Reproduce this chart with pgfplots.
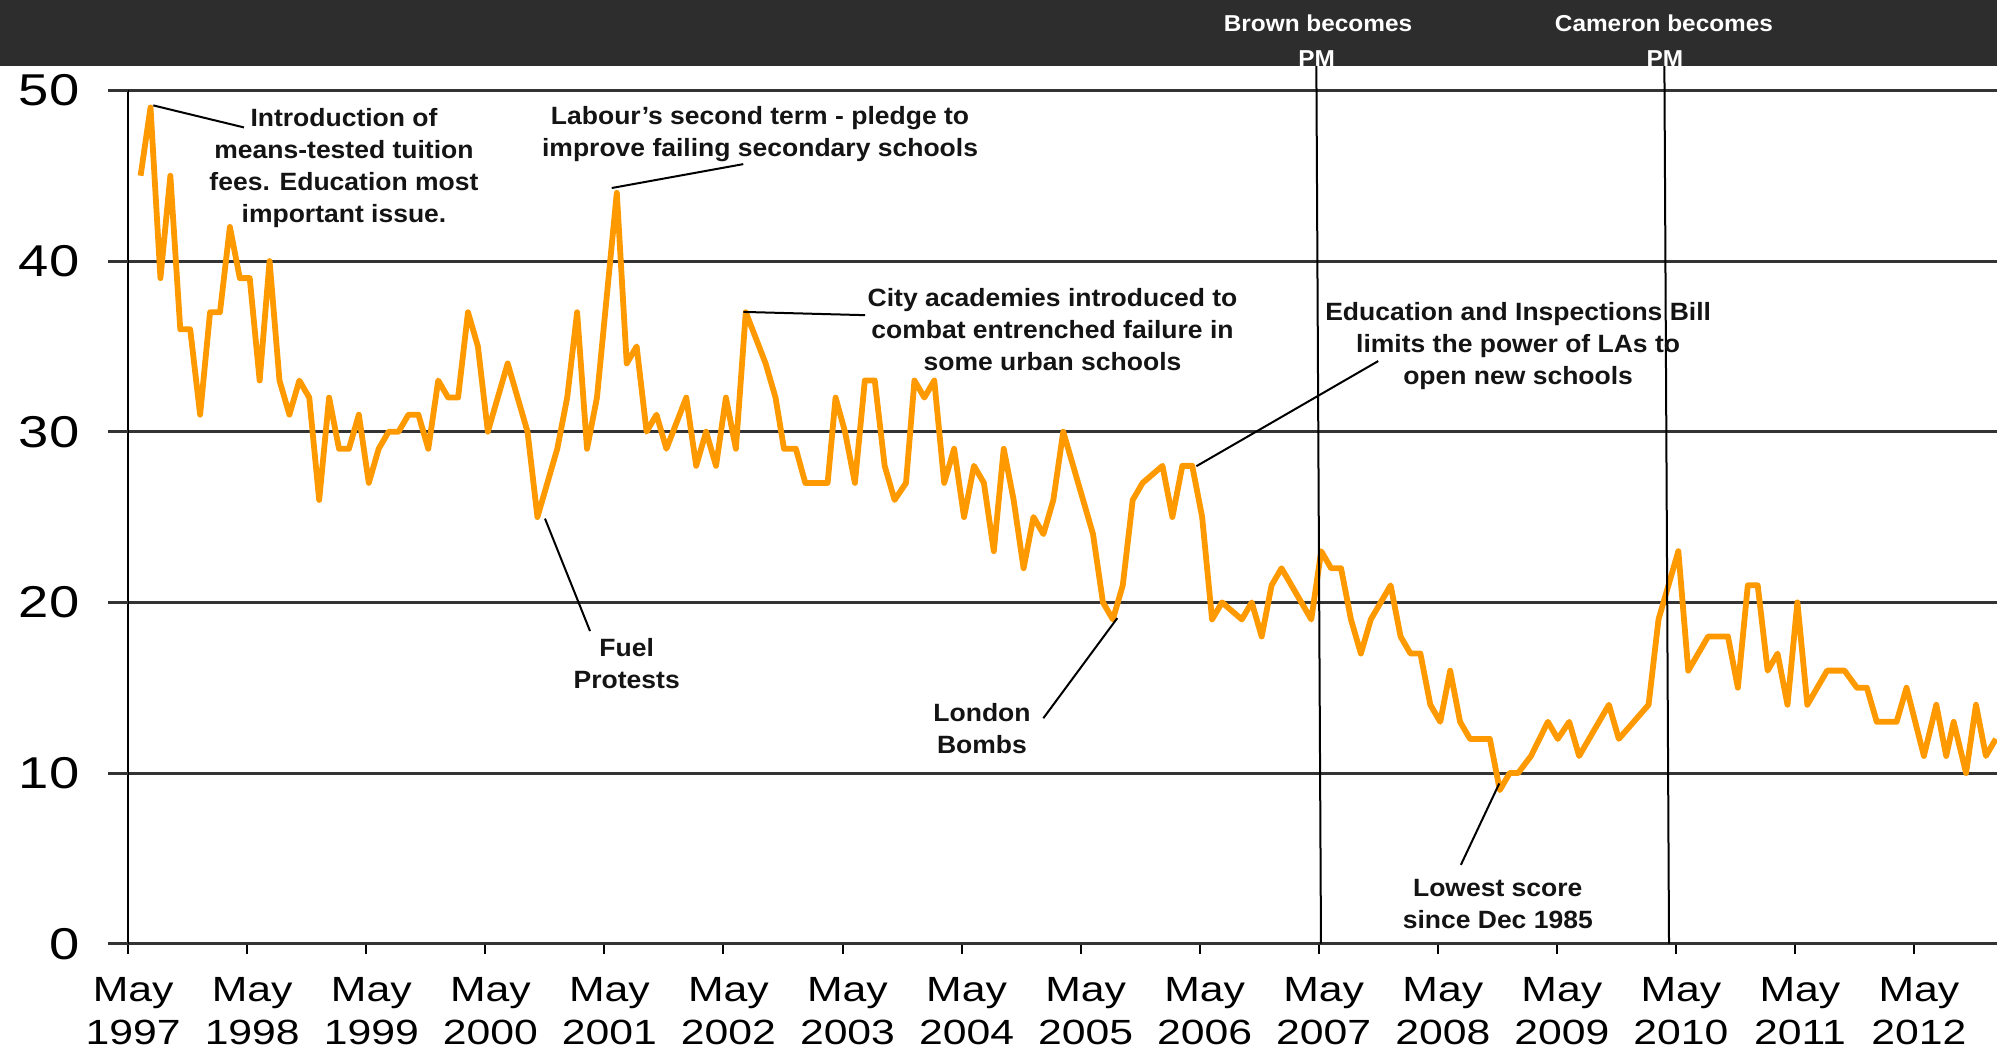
\documentclass[border=0pt]{standalone}
\usepackage{pgfplots}
\pgfplotsset{compat=1.18}
\usepackage{pgfplotstable}
\usepackage{fontspec}
\setmainfont{Liberation Sans}
\newfontfamily\tickfont{Liberation Sans}[FakeStretch=1.22]
\newfontfamily\notefont{Liberation Sans}[FakeStretch=1.06]

\definecolor{lineor}{RGB}{255,153,0}
\definecolor{gridc}{RGB}{51,51,51}
\definecolor{band}{RGB}{45,45,45}
\definecolor{txt}{RGB}{20,20,20}

% months after May 1997, share of public naming education as an important issue
\pgfplotstableread{
m val
1.25 45
2.25 49
3.25 39
4.25 45
5.25 36
6.25 36
7.25 31
8.25 37
9.25 37
10.25 42
11.25 39
12.25 39
13.25 33
14.25 40
15.25 33
16.25 31
17.25 33
18.25 32
19.25 26
20.25 32
21.25 29
22.25 29
23.25 31
24.25 27
25.25 29
26.25 30
27.25 30
28.25 31
29.25 31
30.25 29
31.25 33
32.25 32
33.25 32
34.25 37
35.25 35
36.25 30
37.25 32
38.25 34
40.25 30
41.25 25
43.25 29
44.25 32
45.25 37
46.25 29
47.25 32
49.25 44
50.25 34
51.25 35
52.25 30
53.25 31
54.25 29
56.25 32
57.25 28
58.25 30
59.25 28
60.25 32
61.25 29
62.25 37
64.25 34
65.25 32
66.1 29
67.3 29
68.25 27
70.5 27
71.3 32
72.25 30
73.25 27
74.25 33
75.25 33
76.25 28
77.25 26
78.4 27
79.25 33
80.25 32
81.25 33
82.25 27
83.25 29
84.25 25
85.25 28
86.25 27
87.25 23
88.25 29
89.25 26
90.25 22
91.25 25
92.25 24
93.25 26
94.25 30
95.25 28
96.25 26
97.25 24
98.25 20
99.25 19
100.25 21
101.25 26
102.25 27
104.25 28
105.25 25
106.25 28
107.25 28
108.25 25
109.25 19
110.25 20
112.25 19
113.25 20
114.25 18
115.25 21
116.25 22
119.25 19
120.25 23
121.25 22
122.25 22
123.25 19
124.25 17
125.25 19
127.25 21
128.25 18
129.25 17
130.25 17
131.25 14
132.25 13
133.25 16
134.25 13
135.25 12
137.25 12
138.25 9
139.25 10
140.1 10
141.4 11
143.1 13
144.1 12
145.25 13
146.25 11
149.25 14
150.25 12
153.25 14
154.25 19
155.25 21
156.25 23
157.25 16
158.25 17
159.25 18
161.25 18
162.25 15
163.25 21
164.25 21
165.25 16
166.25 17
167.25 14
168.25 20
169.25 14
170.25 15
171.25 16
173.0 16
174.25 15
175.25 15
176.25 13
178.25 13
179.25 15
181.0 11
182.25 14
183.25 11
184.0 13
185.25 10
186.25 14
187.25 11
188.25 12
}\edudata

\begin{document}
\begin{tikzpicture}
\path[use as bounding box] (-64.1bp,-54.15bp) rectangle (934.4bp,471.85bp);
\begin{axis}[
  at={(0,0)}, anchor=south west,
  scale only axis,
  width=934.4bp, height=426.65bp,
  xmin=0, xmax=188.37,
  ymin=0, ymax=50,
  clip=false,
  axis x line*=bottom, axis y line*=left,
  axis line style={-, line width=1.2bp},
  x axis line style={gridc, line width=1.5bp},
  y axis line style={black},
  xtick={0,12,...,180},
  xticklabels={May\\1997,May\\1998,May\\1999,May\\2000,May\\2001,May\\2002,May\\2003,May\\2004,May\\2005,May\\2006,May\\2007,May\\2008,May\\2009,May\\2010,May\\2011,May\\2012},
  xtick align=outside,
  major tick length=5bp,
  xtick style={black, line width=1bp},
  xticklabel style={align=center, font=\tickfont\fontsize{17.5bp}{21.4bp}\selectfont, xshift=2.5bp, yshift=-8.5bp},
  ytick={0,10,...,50},
  ytick style={draw=none},
  ytick align=inside,
  yticklabel style={inner sep=0pt, anchor=east, xshift=-24.25bp, font=\tickfont\fontsize{22.3bp}{26bp}\selectfont},
  /pgf/number format/assume math mode=true,
  ymajorgrids,
  major grid style={gridc, line width=1.5bp},
]
\pgfplotsinvokeforeach{0,10,20,30,40,50}{
  \draw[gridc, line width=1.5bp] (axis cs:-2.02,#1) -- (axis cs:0,#1);
}

\addplot[lineor, line width=2.9bp, line join=round, mark=none] table[x=m, y=val] {\edudata};

% leader lines
\draw[black, line width=1bp] (axis cs:2.53,49.12) -- (axis cs:11.67,47.83);
\draw[black, line width=1bp] (axis cs:48.74,44.28) -- (axis cs:62.0,45.68);
\draw[black, line width=1bp] (axis cs:62.0,37.02) -- (axis cs:74.27,36.83);
\draw[black, line width=1bp] (axis cs:107.67,27.98) -- (axis cs:126.0,34.14);
\draw[black, line width=1bp] (axis cs:42.01,24.91) -- (axis cs:46.55,18.32);
\draw[black, line width=1bp] (axis cs:92.24,13.21) -- (axis cs:99.7,19.08);
\draw[black, line width=1bp] (axis cs:138.2,9.39) -- (axis cs:134.33,4.62);

% prime minister markers
\draw[black, line width=1bp] (axis cs:120.23,0) -- (axis cs:119.75,53);
\draw[black, line width=1bp] (axis cs:155.31,0) -- (axis cs:154.83,53);
\fill[band] (axis cs:-14,51.42) rectangle (axis cs:192,57);
\begin{scope}[every node/.style={white, font=\notefont\fontsize{11.5bp}{14bp}\selectfont\bfseries}]
\node at (axis cs:119.93,53.94) {Brown becomes};
\node at (axis cs:119.79,51.89) {PM};
\node at (axis cs:154.8,53.94) {Cameron becomes};
\node at (axis cs:154.9,51.89) {PM};
\end{scope}

% annotations
\begin{scope}[every node/.style={txt, align=center, inner sep=0pt, font=\notefont\fontsize{12.5bp}{16bp}\selectfont\bfseries}]
\node at (axis cs:21.75,45.48) {Introduction of\\means-tested tuition\\fees. Education most\\important issue.};
\node at (axis cs:63.69,47.46) {Labour’s second term - pledge to\\improve failing secondary schools};
\node at (axis cs:93.17,35.99) {City academies introduced to\\combat entrenched failure in\\some urban schools};
\node at (axis cs:140.1,35.01) {Education and Inspections Bill\\limits the power of LAs to\\open new schools};
\node at (axis cs:50.25,16.44) {Fuel\\Protests};
\node at (axis cs:86.06,12.61) {London\\Bombs};
\node at (axis cs:138.05,2.31) {Lowest score\\since Dec 1985};
\end{scope}
\end{axis}
\end{tikzpicture}
\end{document}
